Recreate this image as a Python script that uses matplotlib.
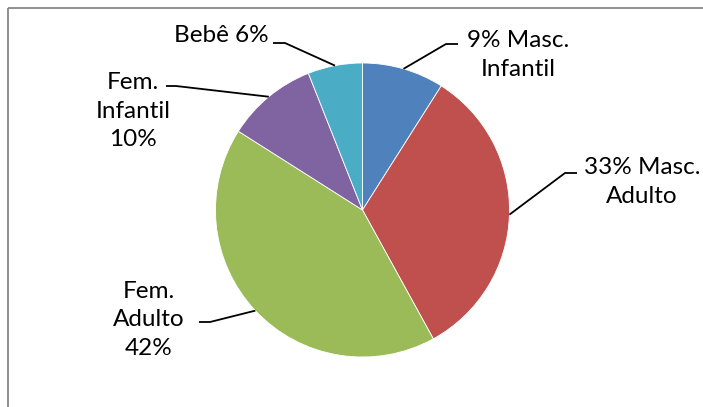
import numpy as np
import matplotlib.pyplot as plt
from matplotlib.patches import Rectangle

# Data
categorias = ['Masc. Infantil', 'Masc. Adulto', 'Fem. Adulto', 'Fem. Infantil', 'Bebê']
percentuais = [9, 33, 42, 10, 6]
cores = ['#4F81BD', '#C0504D', '#9BBB59', '#8064A2', '#4BACC6']

# Label layout (pixel coords, y from top): text centre, line start, elbow
W, H = 703, 407
texto_pos = [(518, 55), (642, 182), (149, 320), (133, 111), (221, 35)]
linha_ini = [(458, 44), (577, 173), (199, 322), (166, 86), (273, 43)]
linha_cot = [(446, 44), (565, 173), (210, 322), (176, 86), (285, 43)]

plt.rcParams['font.family'] = ['Lato', 'DejaVu Sans']

fig = plt.figure(figsize=(W / 100, H / 100), dpi=100)
ax = fig.add_axes([0, 0, 1, 1])


def py(y):
    return H - y


# chart frame
ax.add_patch(Rectangle((8, py(8)), W + 20, -(H + 20), fill=False,
                       edgecolor='#868686', linewidth=1.3))

cx, cy, r = 362.5, py(210), 147
wedges, _ = ax.pie(percentuais, colors=cores, startangle=90, counterclock=False,
                   center=(cx, cy), radius=r, frame=True,
                   wedgeprops=dict(edgecolor='white', linewidth=0.6))
ax.set_xlim(0, W)
ax.set_ylim(0, H)
ax.axis('off')

rotulos = [
    f'{percentuais[0]}% Masc.\nInfantil',
    f'{percentuais[1]}% Masc.\nAdulto',
    f'Fem.\nAdulto\n{percentuais[2]}%',
    f'Fem.\nInfantil\n{percentuais[3]}%',
    f'{categorias[4]} {percentuais[4]}%',
]

for w, txt, tp, li, lc in zip(wedges, rotulos, texto_pos, linha_ini, linha_cot):
    ang = np.deg2rad((w.theta1 + w.theta2) / 2)
    ex, ey = cx + r * np.cos(ang), cy + r * np.sin(ang)
    ax.plot([li[0], lc[0], ex], [py(li[1]), py(lc[1]), ey], color='black', lw=1.3,
            solid_capstyle='butt')
    ax.text(tp[0], py(tp[1]), txt, ha='center', va='center', fontsize=17.5,
            linespacing=1.45, color='black')

fig.savefig('out.png', dpi=100)
